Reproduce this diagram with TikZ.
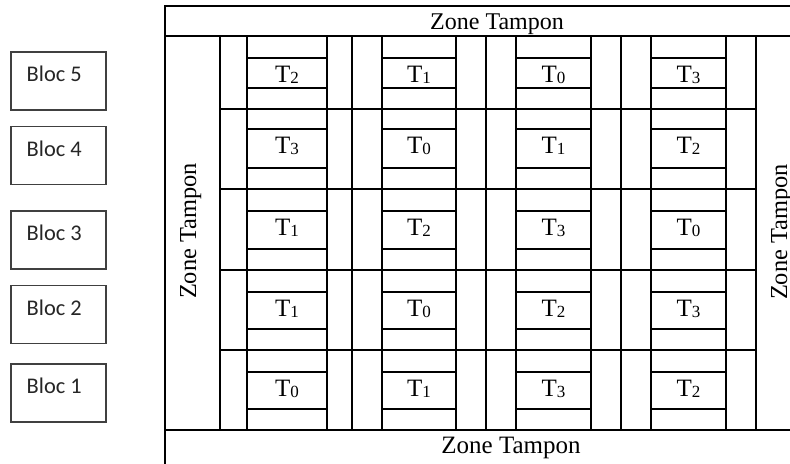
\documentclass[tikz,border=0pt]{standalone}
\usepackage{fontspec}
\setmainfont{Liberation Serif}
\newfontfamily\blocfont{Carlito}
\usetikzlibrary{positioning}
\newcommand{\trt}[1]{T\raisebox{-0.8pt}{\fontsize{8.5}{10}\selectfont #1}}

\begin{document}
\begin{tikzpicture}[x=0.5pt,y=-0.5pt,line width=0.65pt,
  bloc/.style={draw=black!75,line width=0.75pt,minimum width=47.5pt,minimum height=29pt,inner sep=0pt},
  bloctxt/.style={text=black!85,font=\blocfont\fontsize{11.2}{13}\selectfont,inner sep=0pt,anchor=base west},
  zone/.style={inner sep=0pt,anchor=base,font=\fontsize{12}{14}\selectfont},
  plotlbl/.style={inner sep=0pt,anchor=north,text height=8.3pt,text depth=0pt,font=\fontsize{12.5}{15}\selectfont}]
\useasboundingbox (0,0) rectangle (790,463);
\clip (0,0) rectangle (790,463);

% blocs on the left
\foreach \b/\yc in {5/81,4/155.5,3/240,2/314.5,1/393} {
  \node[bloc] (b\b) at (58.3,\yc) {};
  \node[bloctxt] (l\b) at ([xshift=8pt,yshift=-15.25pt]b\b.north west) {Bloc \b};
}

% outer frame and buffer zones
\draw (165,6) rectangle (830,480);
\draw (165,36) -- (830,36);
\draw (165,430) -- (830,430);
\node[zone] (zt) at (497,29) {Zone Tampon};
\node[zone,font=\fontsize{12.5}{15}\selectfont] (zb) at (511,453) {Zone Tampon};
\node[zone,rotate=90,font=\fontsize{12.2}{15}\selectfont] (zl) at (196,231) {Zone Tampon};
\node[zone,rotate=90,font=\fontsize{12.2}{15}\selectfont] (zr) at (787,232) {Zone Tampon};

% grid of plots
\foreach \x in {220,247,327,352,382,456,486,516,591,621,651,726,756}
  \draw (\x,36) -- (\x,430);
\foreach \y in {109,189,270,350}
  \draw (220,\y) -- (756,\y);
\foreach \ya/\yb in {58/88,129/168,211/249,292/329,372/409}
  \foreach \xa/\xb in {247/327,382/456,516/591,651/726} {
    \draw (\xa,\ya) -- (\xb,\ya);
    \draw (\xa,\yb) -- (\xb,\yb);
  }

% treatments
\foreach \r/\ys/\ta/\tb/\tc/\td in {5/58/2/1/0/3,4/129/3/0/1/2,3/211/1/2/3/0,2/292/1/0/2/3,1/372/0/1/3/2} {
  \node[plotlbl] (t\r a) at (287,\ys+7) {\trt{\ta}};
  \node[plotlbl] (t\r b) at (419,\ys+7) {\trt{\tb}};
  \node[plotlbl] (t\r c) at (553.5,\ys+7) {\trt{\tc}};
  \node[plotlbl] (t\r d) at (688.5,\ys+7) {\trt{\td}};
}
\end{tikzpicture}
\end{document}
